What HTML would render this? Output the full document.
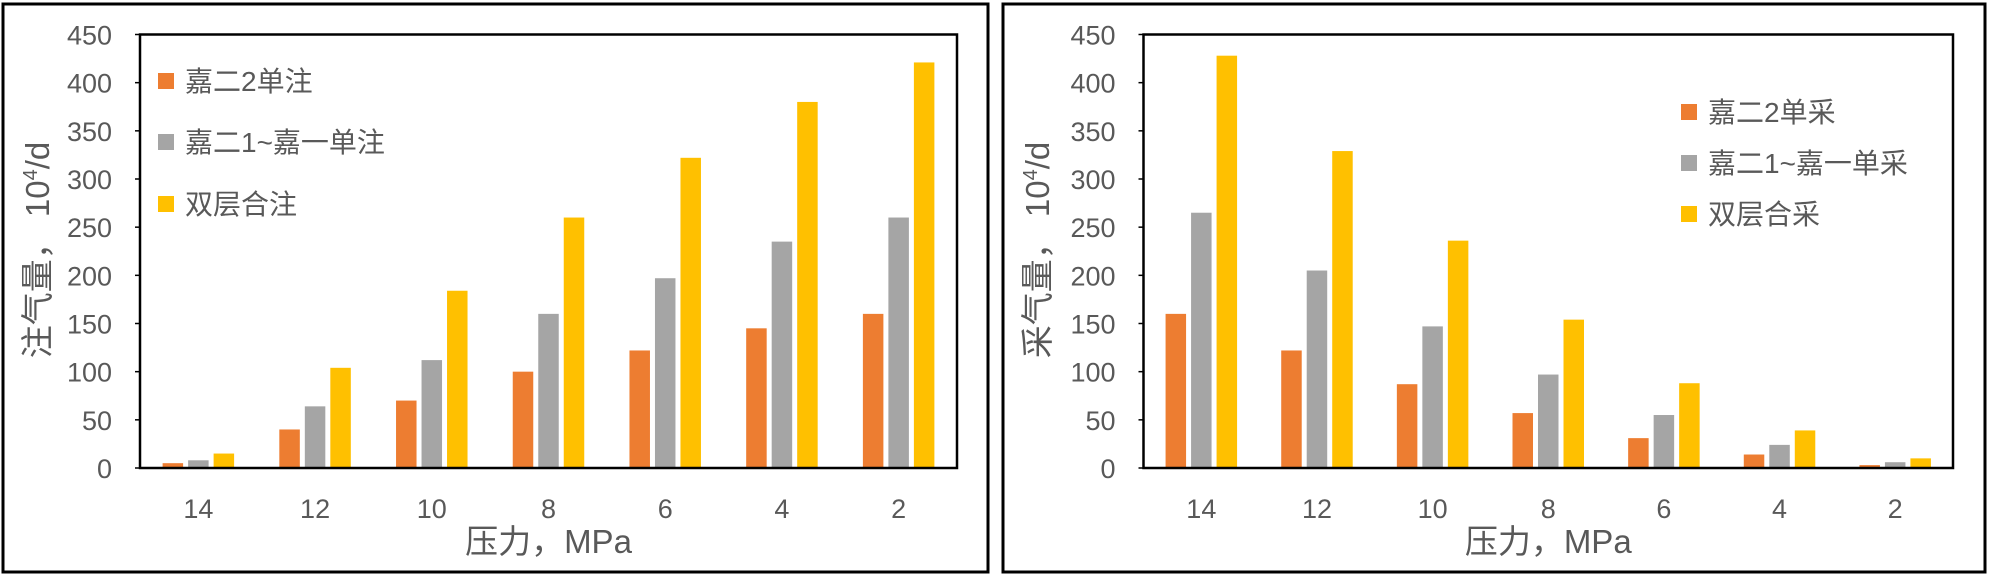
<!DOCTYPE html>
<html><head><meta charset="utf-8"><style>
html,body{margin:0;padding:0;background:#fff;}
svg{display:block;font-family:"Liberation Sans","Noto Sans CJK SC",sans-serif;}
</style></head><body>
<svg id="root" width="2000" height="581" viewBox="0 0 2000 581"></svg>
<script>
const categories = ["14","12","10","8","6","4","2"];
const yTicks = [0,50,100,150,200,250,300,350,400,450];
const injNames = ["嘉二2单注","嘉二1~嘉一单注","双层合注"];
const injS1 = [5,40,70,100,122,145,160];
const injS2 = [8,64,112,160,197,235,260];
const injS3 = [15,104,184,260,322,380,421];
const prodNames = ["嘉二2单采","嘉二1~嘉一单采","双层合采"];
const prodS1 = [160,122,87,57,31,14,3];
const prodS2 = [265,205,147,97,55,24,6];
const prodS3 = [428,329,236,154,88,39,10];

const colors = ["#ED7D31","#A5A5A5","#FFC000"];
const NS = "http://www.w3.org/2000/svg";
const root = document.getElementById('root');
function el(tag, attrs, parent, text){
  const e = document.createElementNS(NS, tag);
  for (const k in attrs) e.setAttribute(k, attrs[k]);
  if (text !== undefined) e.textContent = text;
  (parent||root).appendChild(e);
  return e;
}
function panel(cfg){
  const g = el('g', {});
  
  
  const frame = el('rect', {x:cfg.fx, y:4, width:cfg.fw, height:568, fill:'none', stroke:'#000', 'stroke-width':3}, g);
  
  
  const L = cfg.px, R = cfg.pr, T = 34.5, B = 468;
  const y = v => B - (v/450)*(B-T);
  const band = (R-L)/categories.length;
  const x = i => L + band*(i+0.5);
  yTicks.forEach(t => {
    const tx = el('text', {x:L-28, y:y(t)+10, 'text-anchor':'end', 'font-size':27, fill:'#595959'}, g, String(t));
    
    
    const tk = el('line', {x1:L-5, x2:L, y1:y(t), y2:y(t), stroke:'#000', 'stroke-width':1.5}, g);
    
    
  });
  const bw = 20.5, gap = 5;
  cfg.series.forEach((s, si) => {
    s.forEach((v, i) => {
      const bx = x(i) - 1.5*bw - gap + si*(bw+gap);
      const r = el('rect', {x:bx, y:y(v), width:bw, height:B-y(v), fill:colors[si]}, g);
      
      
    });
  });
  categories.forEach((c, i) => {
    const tx = el('text', {x:x(i), y:518, 'text-anchor':'middle', 'font-size':27, fill:'#595959'}, g, c);
    
    
  });
  const pa = el('rect', {x:L, y:T, width:R-L, height:B-T, fill:'none', stroke:'#000', 'stroke-width':2.5}, g);
  
  
  const xt = el('text', {x:(L+R)/2, y:553, 'text-anchor':'middle', 'font-size':33, fill:'#595959'}, g, '压力，MPa');
  
  
  const yt = el('text', {x:0, y:0, 'text-anchor':'middle', 'font-size':33, fill:'#595959', transform:'translate('+(cfg.fx+46)+',250) rotate(-90)'}, g);
  
  
  yt.appendChild(document.createTextNode(cfg.ytitle + '，  10'));
  el('tspan', {'font-size':20, dy:-12}, yt, '4');
  el('tspan', {dy:12}, yt, '/d');
  cfg.names.forEach((n, si) => {
    const ly = cfg.legY[si];
    const sw = el('rect', {x:cfg.legX, y:ly-8, width:16, height:16, fill:colors[si]}, g);
    
    
    const lt = el('text', {x:cfg.legX+27, y:ly+10, 'font-size':28, fill:'#595959'}, g, n);
    
    
  });
}
panel({name:'injection-chart', fx:3, fw:985, px:140, pr:957, ytitle:'注气量',
  series:[injS1,injS2,injS3], names:injNames, legX:158, legY:[81,142,204]});
panel({name:'production-chart', fx:1003, fw:982, px:1143.5, pr:1953, ytitle:'采气量',
  series:[prodS1,prodS2,prodS3], names:prodNames, legX:1681, legY:[112,163,214]});
</script>
</body></html>
